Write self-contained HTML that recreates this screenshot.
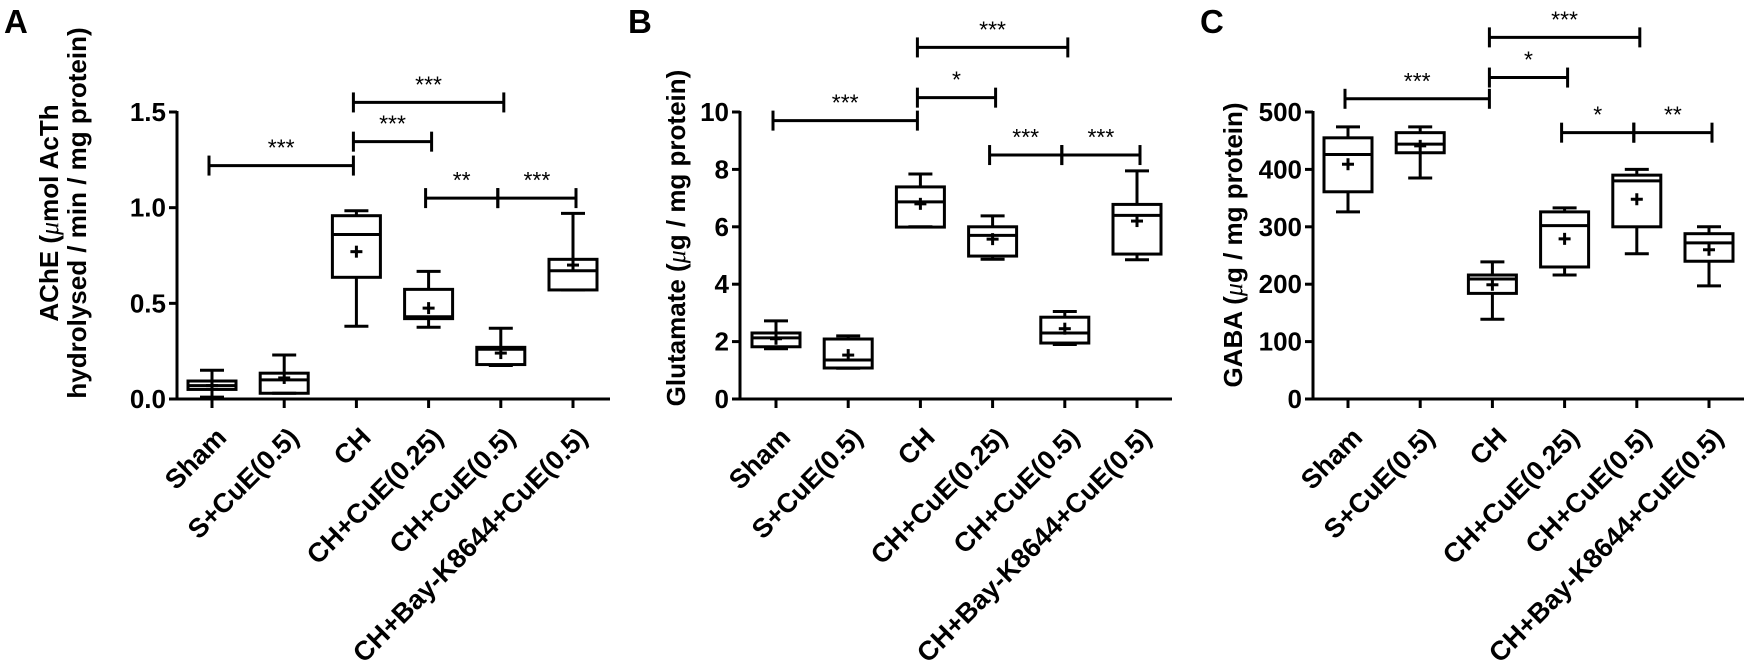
<!DOCTYPE html>
<html><head><meta charset="utf-8">
<style>
html,body{margin:0;padding:0;background:#fff;}
svg{display:block;font-family:"Liberation Sans",Arial,sans-serif;}
</style></head>
<body>
<svg id="fig" width="1748" height="662" viewBox="0 0 1748 662" xmlns="http://www.w3.org/2000/svg"></svg>
<script>
const categories = ["Sham","S+CuE(0.5)","CH","CH+CuE(0.25)","CH+CuE(0.5)","CH+Bay-K8644+CuE(0.5)"];
// [low, q1, median, q3, high, mean]
const acheValues = [[0.01,0.05,0.07,0.094,0.15,0.07],[0.03,0.03,0.10,0.135,0.23,0.11],[0.38,0.636,0.86,0.958,0.984,0.77],[0.375,0.42,0.43,0.573,0.667,0.475],[0.175,0.18,0.26,0.27,0.37,0.24],[0.57,0.57,0.67,0.73,0.97,0.70]];
const gluValues = [[1.75,1.82,2.13,2.3,2.72,2.1],[1.07,1.08,1.36,2.09,2.2,1.53],[6.0,5.99,6.87,7.39,7.84,6.8],[4.87,4.98,5.7,6.0,6.38,5.57],[1.9,1.95,2.3,2.85,3.05,2.45],[4.85,5.05,6.4,6.78,7.95,6.2]];
const gabaValues = [[326,361,426,455,474,409],[385,429,444,464,474,441],[139,184,209,216,239,199],[216,230,302,326,333,279],[253,300,380,390,400,348],[197,240,272,288,300,260]];
const acheTicks = ["0.0","0.5","1.0","1.5"];
const gluTicks = ["0","2","4","6","8","10"];
const gabaTicks = ["0","100","200","300","400","500"];
// [fromIndex, toIndex, level(value), label]
const acheSig = [[2,4,1.55,"***"],[2,3,1.345,"***"],[0,2,1.22,"***"],[3,4,1.05,"**"],[4,5,1.05,"***"]];
const gluSig = [[2,4,12.25,"***"],[2,3,10.5,"*"],[0,2,9.7,"***"],[3,4,8.5,"***"],[4,5,8.5,"***"]];
const gabaSig = [[2,4,630,"***"],[2,3,560,"*"],[0,2,523,"***"],[3,4,464,"*"],[4,5,464,"**"]];

const NS="http://www.w3.org/2000/svg";
const svg=document.getElementById('fig');
function mk(tag,attrs,parent){const e=document.createElementNS(NS,tag);for(const k in attrs)e.setAttribute(k,attrs[k]);(parent||svg).appendChild(e);return e;}

const panels=[
 {id:"a",letter:"A",lx:4,axisX:177,x0:212,yMax:1.5,vals:acheValues,ticks:acheTicks,sig:acheSig,xEnd:610,title:[["AChE (","μ","mol AcTh"],["hydrolysed / min / mg protein)","",""]],tx:[58,86],ty:213},
 {id:"b",letter:"B",lx:628,axisX:740,x0:776,yMax:10,vals:gluValues,ticks:gluTicks,sig:gluSig,xEnd:1172,title:[["Glutamate (","μ","g / mg protein)"]],tx:[685],ty:238},
 {id:"c",letter:"C",lx:1200,axisX:1313,x0:1348,yMax:500,vals:gabaValues,ticks:gabaTicks,sig:gabaSig,xEnd:1744,title:[["GABA (","μ","g / mg protein)"]],tx:[1242],ty:245}
];
const yBase=399, yTop=112, step=72.2;

panels.forEach(p=>{
  const g=mk('g',{});
  
  
  const Y=v=>yBase-(v/p.yMax)*(yBase-yTop);
  const X=i=>p.x0+i*step;
  const L=mk('text',{x:p.lx,y:33,'font-size':33,'font-weight':'bold'},g);
  L.textContent=p.letter;
  
  
  const ya=mk('line',{x1:p.axisX,y1:yTop-1,x2:p.axisX,y2:yBase,stroke:'#000','stroke-width':3},g);
  
  
  const xa=mk('line',{x1:p.axisX-1,y1:yBase,x2:p.xEnd,y2:yBase,stroke:'#000','stroke-width':3},g);
  
  
  p.ticks.forEach((t,i)=>{
    const v=i*p.yMax/(p.ticks.length-1), y=Y(v);
    mk('line',{x1:p.axisX-8,y1:y,x2:p.axisX,y2:y,stroke:'#000','stroke-width':3},g);
    const tt=mk('text',{x:p.axisX-11,y:y+9,'font-size':26,'font-weight':'bold','text-anchor':'end'},g);
    tt.textContent=t;
    
    
  });
  p.title.forEach((parts,k)=>{
    const cy=p.ty;
    const tl=mk('text',{x:p.tx[k],y:cy,'font-size':26,'font-weight':'bold','text-anchor':'middle',transform:`rotate(-90 ${p.tx[k]} ${cy})`},g);
    
    
    const s1=mk('tspan',{},tl); s1.textContent=parts[0];
    if(parts[1]){const s2=mk('tspan',{'font-style':'italic','font-weight':'normal','font-family':'"Liberation Serif",serif'},tl); s2.textContent=parts[1];}
    if(parts[2]){const s3=mk('tspan',{},tl); s3.textContent=parts[2];}
  });
  categories.forEach((c,i)=>{
    const cx=X(i);
    mk('line',{x1:cx,y1:yBase,x2:cx,y2:yBase+9,stroke:'#000','stroke-width':3},g);
    const ax=cx+16, ay=yBase+40;
    const xl=mk('text',{x:ax,y:ay,'font-size':27,'font-weight':'bold','text-anchor':'end',transform:`rotate(-45 ${ax} ${ay})`},g);
    xl.textContent=c;
    
    
    const d=p.vals[i];
    const bg=mk('g',{},g);
    
    
    const st={stroke:'#000','stroke-width':3,fill:'none'};
    mk('line',Object.assign({x1:cx,y1:Y(d[4]),x2:cx,y2:Y(d[3])},st),bg);
    mk('line',Object.assign({x1:cx,y1:Y(d[1]),x2:cx,y2:Y(d[0])},st),bg);
    mk('line',Object.assign({x1:cx-12,y1:Y(d[4]),x2:cx+12,y2:Y(d[4])},st),bg);
    mk('line',Object.assign({x1:cx-12,y1:Y(d[0]),x2:cx+12,y2:Y(d[0])},st),bg);
    mk('rect',Object.assign({x:cx-24,y:Y(d[3]),width:48,height:Math.max(1,Y(d[1])-Y(d[3]))},st),bg);
    mk('line',Object.assign({x1:cx-24,y1:Y(d[2]),x2:cx+24,y2:Y(d[2])},st),bg);
    const my=Y(d[5]);
    mk('line',Object.assign({x1:cx-6,y1:my,x2:cx+6,y2:my},st),bg);
    mk('line',Object.assign({x1:cx,y1:my-6,x2:cx,y2:my+6},st),bg);
  });
  p.sig.forEach(s=>{
    const y=Y(s[2]), x1=X(s[0])-3, x2=X(s[1])+ (s[0]===3||s[0]===0&&s[1]===2?-3:3);
    const sg=mk('g',{},g);
    
    
    const a={stroke:'#000','stroke-width':3};
    mk('line',Object.assign({x1:x1,y1:y,x2:x2,y2:y},a),sg);
    mk('line',Object.assign({x1:x1,y1:y-10,x2:x1,y2:y+10},a),sg);
    mk('line',Object.assign({x1:x2,y1:y-10,x2:x2,y2:y+10},a),sg);
    const st=mk('text',{x:(x1+x2)/2,y:y-10,'font-size':23,'font-weight':'normal','text-anchor':'middle'},sg);
    st.textContent=s[3];
  });
});
</script>
</body></html>
